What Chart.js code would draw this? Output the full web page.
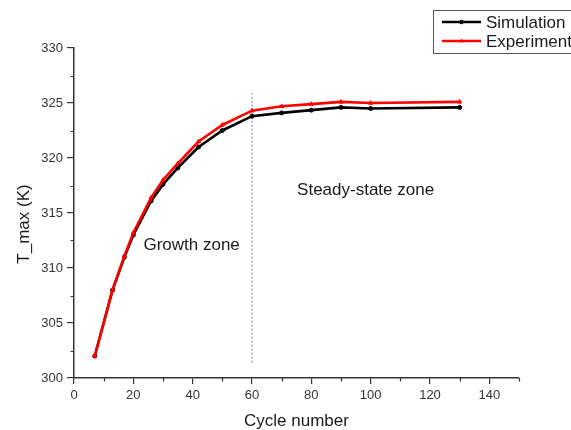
<!DOCTYPE html>
<html>
<head>
<meta charset="utf-8">
<script src="https://cdn.jsdelivr.net/npm/chart.js@4.4.0/dist/chart.umd.min.js"></script>
<style>
  html, body { margin: 0; padding: 0; background: #fff; }
  canvas { display: block; }
</style>
</head>
<body>
<canvas id="chart" width="571" height="430"></canvas>
<script>
// cycle numbers and peak temperatures (K)
const cycles = [7, 13, 17, 20, 26, 30, 35, 42, 50, 60, 70, 80, 90, 100, 130];
const simulation = [302.0, 308.0, 311.0, 313.0, 316.1, 317.6, 319.1, 321.0, 322.5, 323.8, 324.1, 324.35, 324.6, 324.5, 324.6];
const experiment = [302.0, 308.0, 311.1, 313.2, 316.4, 318.0, 319.5, 321.5, 323.0, 324.3, 324.7, 324.9, 325.1, 325.0, 325.1];

// boundary between the two zones
const zoneBoundary = [{ x: 60, y: 301.4 }, { x: 60, y: 325.9 }];
const zoneLabels = [
  { text: "Growth zone", x: 23.4, y: 312.1 },
  { text: "Steady-state zone", x: 75.2, y: 317.1 }
];
const seriesNames = ["Simulation", "Experiment"];

const FONT = "'Liberation Sans', Arial, sans-serif";
const toPoints = (ys) => cycles.map((c, i) => ({ x: c, y: ys[i] }));

// minor ticks, axis titles, zone labels and the legend box
const extras = {
  id: "extras",
  afterDraw(chart) {
    const ctx = chart.ctx;
    const xs = chart.scales.x, ys = chart.scales.y;
    const area = chart.chartArea;
    ctx.save();
    ctx.strokeStyle = "#333";
    ctx.lineWidth = 1.2;
    ctx.beginPath();
    for (let v = 10; v <= 150; v += 20) {
      const px = Math.round(xs.getPixelForValue(v)) + 0.5;
      ctx.moveTo(px, area.bottom);
      ctx.lineTo(px, area.bottom + 3.5);
    }
    for (let v = 302.5; v < 330; v += 5) {
      const py = Math.round(ys.getPixelForValue(v)) + 0.5;
      ctx.moveTo(area.left, py);
      ctx.lineTo(area.left - 3.5, py);
    }
    ctx.stroke();

    ctx.fillStyle = "#1a1a1a";
    ctx.font = "17px " + FONT;
    ctx.textBaseline = "middle";
    ctx.textAlign = "center";
    ctx.fillText("Cycle number", (area.left + area.right) / 2, 421);
    ctx.save();
    ctx.translate(24, 224);
    ctx.rotate(-Math.PI / 2);
    ctx.fillText("T_max (K)", 0, 0);
    ctx.restore();

    ctx.textAlign = "left";
    zoneLabels.forEach(l => {
      ctx.fillText(l.text, xs.getPixelForValue(l.x), ys.getPixelForValue(l.y));
    });

    // legend
    ctx.strokeStyle = "#555";
    ctx.lineWidth = 1;
    ctx.strokeRect(433.5, 10.5, 150, 43);
    const colors = ["#000000", "#ff0000"];
    const styles = ["circle", "triangle"];
    [22, 41].forEach((y, i) => {
      ctx.strokeStyle = colors[i];
      ctx.lineWidth = 2.5;
      ctx.beginPath();
      ctx.moveTo(442, y);
      ctx.lineTo(481, y);
      ctx.stroke();
      ctx.fillStyle = colors[i];
      ctx.lineWidth = 1;
      Chart.helpers.drawPoint(ctx, { pointStyle: styles[i], radius: 1.8, borderWidth: 1 }, 461.5, y);
      ctx.fillStyle = "#1a1a1a";
      ctx.fillText(seriesNames[i], 486, y + 1);
    });
    ctx.restore();
  }
};

const axisCommon = {
  grid: { drawOnChartArea: false, color: "#333", lineWidth: 1.2 },
  border: { color: "#333", width: 1.5 },
};

new Chart(document.getElementById("chart"), {
  type: "line",
  data: {
    datasets: [
      {
        label: seriesNames[1],
        data: toPoints(experiment),
        borderColor: "#ff0000",
        backgroundColor: "#ff0000",
        borderWidth: 2.6,
        pointStyle: "triangle",
        pointRadius: 2.4,
        pointBorderWidth: 1,
        order: 0
      },
      {
        label: seriesNames[0],
        data: toPoints(simulation),
        borderColor: "#000000",
        backgroundColor: "#000000",
        borderWidth: 2.6,
        pointStyle: "circle",
        pointRadius: 2,
        pointBorderWidth: 1,
        order: 1
      },
      {
        label: "boundary",
        data: zoneBoundary,
        borderColor: "#777",
        borderWidth: 1,
        borderDash: [2, 2],
        pointRadius: 0,
        order: 2
      }
    ]
  },
  options: {
    responsive: false,
    animation: false,
    layout: { padding: { top: 48, right: 52, left: 0, bottom: 0 } },
    plugins: { legend: { display: false }, tooltip: { enabled: false } },
    scales: {
      x: {
        ...axisCommon,
        type: "linear",
        min: 0,
        max: 150,
        grid: { ...axisCommon.grid, tickLength: 6 },
        ticks: { stepSize: 20, includeBounds: false, color: "#333", padding: 4, maxRotation: 0, font: { family: FONT, size: 13 } },
        afterFit: (s) => { s.height = 52; }
      },
      y: {
        ...axisCommon,
        min: 300,
        max: 330,
        grid: { ...axisCommon.grid, tickLength: 7 },
        ticks: { stepSize: 5, color: "#333", padding: 4, font: { family: FONT, size: 13 } },
        afterFit: (s) => { s.width = 74; }
      }
    }
  },
  plugins: [extras]
});
</script>
</body>
</html>
